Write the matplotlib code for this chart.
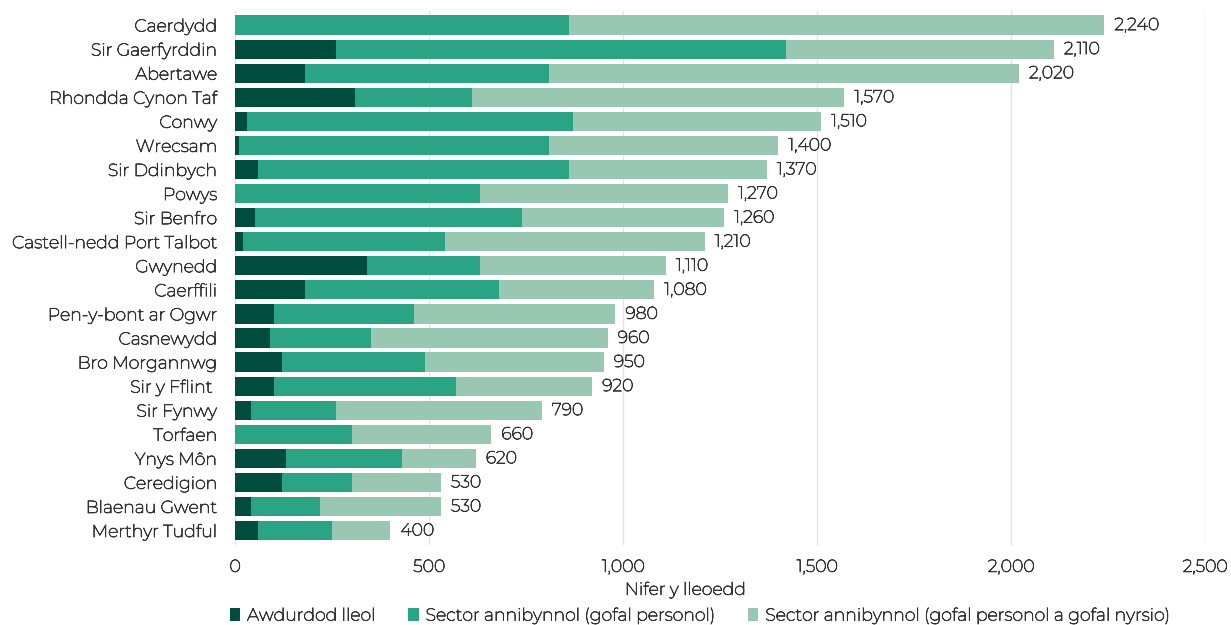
import numpy as np
import matplotlib.pyplot as plt
import matplotlib.patheffects as pe

plt.rcParams['font.family'] = ['Montserrat', 'Open Sans', 'DejaVu Sans']

areas = ["Caerdydd", "Sir Gaerfyrddin", "Abertawe", "Rhondda Cynon Taf", "Conwy",
         "Wrecsam", "Sir Ddinbych", "Powys", "Sir Benfro", "Castell-nedd Port Talbot",
         "Gwynedd", "Caerffili", "Pen-y-bont ar Ogwr", "Casnewydd", "Bro Morgannwg",
         "Sir y Fflint ", "Sir Fynwy", "Torfaen", "Ynys Môn", "Ceredigion",
         "Blaenau Gwent", "Merthyr Tudful"]
local_auth = [0, 260, 180, 310, 30, 10, 60, 0, 50, 20, 340, 180, 100, 90, 120, 100, 40, 0, 130, 120, 40, 60]
personal = [860, 1160, 630, 300, 840, 800, 800, 630, 690, 520, 290, 500, 360, 260, 370, 470, 220, 300, 300, 180, 180, 190]
nursing = [1380, 690, 1210, 960, 640, 590, 510, 640, 520, 670, 480, 400, 520, 610, 460, 350, 530, 360, 190, 230, 310, 150]

series_names = ["Awdurdod lleol", "Sector annibynnol (gofal personol)",
                "Sector annibynnol (gofal personol a gofal nyrsio)"]
colors = ["#004c3f", "#2ba385", "#98c8b2"]
text_col = '#333333'
fs = 12.5
# the installed Montserrat renders very thin, so thicken glyphs a little
thick = [pe.withStroke(linewidth=0.55, foreground=text_col)]

local_auth = np.array(local_auth)
personal = np.array(personal)
nursing = np.array(nursing)
totals = local_auth + personal + nursing

fig = plt.figure(figsize=(12.31, 6.25), dpi=100)
ax = fig.add_axes([0.191, 0.128, 0.788, 0.855])

y = np.arange(len(areas))
ax.barh(y, local_auth, height=0.8, color=colors[0], label=series_names[0], zorder=2)
ax.barh(y, personal, left=local_auth, height=0.8, color=colors[1], label=series_names[1], zorder=2)
ax.barh(y, nursing, left=local_auth + personal, height=0.8, color=colors[2], label=series_names[2], zorder=2)

for yi, t in zip(y, totals):
    ax.text(t + 26, yi, f"{t:,}", va='center', ha='left', fontsize=fs, color=text_col,
            path_effects=thick)

ax.set_yticks(y)
ax.set_yticklabels(areas, fontsize=fs, color=text_col)
ax.set_ylim(len(areas) - 0.4, -0.6)
ax.set_xlim(0, 2500)
ax.set_xticks([0, 500, 1000, 1500, 2000, 2500])
ax.set_xticklabels(["0", "500", "1,000", "1,500", "2,000", "2,500"], fontsize=fs, color=text_col)
ax.tick_params(axis='y', length=0, pad=13)
ax.tick_params(axis='x', length=0, pad=10)
ax.xaxis.grid(True, color='#e4e4e4', lw=1, zorder=0)
for s in ax.spines.values():
    s.set_visible(False)

ax.set_xlabel("Nifer y lleoedd", fontsize=fs, color=text_col)
ax.xaxis.set_label_coords(0.464, -0.069)

leg = ax.legend(loc='upper center', bbox_to_anchor=(0.479, -0.088), ncol=3, frameon=False,
                fontsize=fs, handlelength=0.6, handleheight=0.8, handletextpad=0.4,
                columnspacing=1.9, labelcolor=text_col)

for t in ax.get_xticklabels() + ax.get_yticklabels() + leg.get_texts() + [ax.xaxis.label]:
    t.set_path_effects(thick)

fig.savefig("out.png", dpi=100)
